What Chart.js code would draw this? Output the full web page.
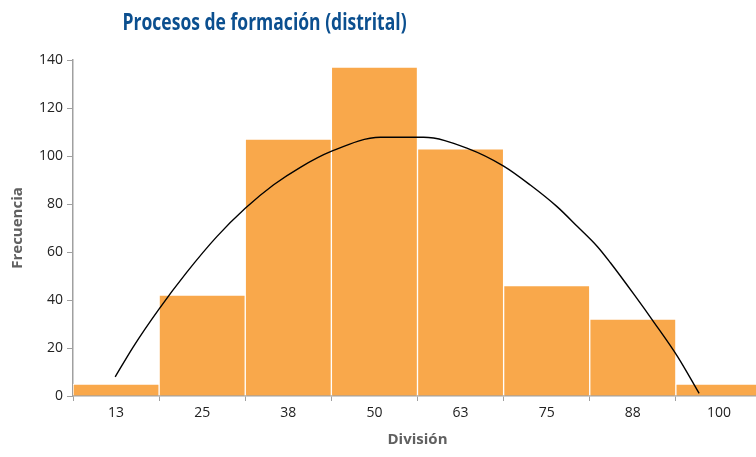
<!DOCTYPE html>
<html>
<head>
<meta charset="utf-8">
<script src="https://cdn.jsdelivr.net/npm/chart.js@4"></script>
<style>
  html, body { margin: 0; padding: 0; background: #fff; overflow: hidden; width: 756px; height: 457px; }
  #wrap { position: relative; width: 756px; height: 457px; overflow: hidden; }
  #titulo { position: absolute; left: 0; top: 4px; width: 530px; text-align: center;
            font-family: "Open Sans", sans-serif; font-weight: 700; font-size: 24px;
            color: #0b4f8f; white-space: nowrap; line-height: 34px; }
  #titulo span { display: inline-block; transform-origin: center; }
  canvas { position: absolute; left: 0; top: 0; }
</style>
</head>
<body>
<div id="wrap">
  <canvas id="hist" width="770" height="457"></canvas>
  <div id="titulo"><span>Procesos de formación (distrital)</span></div>
</div>
<script>
// categorias del histograma (marcas de clase)
var divisiones = ['13', '25', '38', '50', '63', '75', '88', '100'];
var frecuencias = [5, 42, 107, 137, 103, 46, 32, 5];
// curva normal: posicion en unidades de categoria y valor
var curvaX = [-0.01, 0.2, 0.49, 0.82, 1.17, 1.5, 1.83, 2.14, 2.49, 3.07, 3.57, 4.08, 4.5, 4.81, 5.12, 5.36, 5.59, 5.74, 6.02, 6.25, 6.52, 6.77];
var curvaY = [8, 20.5, 35.8, 51.5, 66.4, 78.2, 88, 95.3, 101.8, 107.8, 107.8, 103.2, 95.8, 87.9, 78.9, 70.5, 62.2, 55.5, 42, 30.5, 16.4, 1.1];
var yTicks = [0, 20, 40, 60, 80, 100, 120, 140];

// ajustar ancho del titulo (fuente condensada en el original)
var t = document.querySelector('#titulo span');
t.style.transform = 'scaleX(' + (284 / t.getBoundingClientRect().width) + ')';

var curva = curvaX.map((x, i) => ({ x: x, y: curvaY[i] }));

var ctx = document.getElementById('hist').getContext('2d');
new Chart(ctx, {
  type: 'bar',
  data: {
    labels: divisiones,
    datasets: [{
      type: 'line',
      data: curva,
      xAxisID: 'xc',
      borderColor: '#000',
      borderWidth: 1.4,
      pointRadius: 0,
      cubicInterpolationMode: 'monotone',
      fill: false
    }, {
      type: 'bar',
      data: frecuencias,
      xAxisID: 'x',
      grouped: false,
      backgroundColor: '#f9a84b',
      borderColor: '#ffffff',
      borderWidth: 1,
      barPercentage: 1,
      categoryPercentage: 1
    }]
  },
  options: {
    responsive: false,
    animation: false,
    layout: { padding: { top: 60, right: 8, left: 0, bottom: 0 } },
    plugins: { legend: { display: false }, tooltip: { enabled: false } },
    scales: {
      x: {
        type: 'category',
        afterFit: (s) => { s.height = 61; },
        grid: { drawOnChartArea: false, drawTicks: true, tickLength: 5, color: '#a0a0a0', offset: true },
        border: { color: '#a0a0a0', width: 1.5 },
        ticks: { color: '#222', padding: 4, font: { family: 'Open Sans', size: 14 } },
        title: { display: true, text: 'División', color: '#606060', padding: { bottom: 8, top: 0 },
                 font: { family: 'Open Sans', size: 15, weight: 'bold' } }
      },
      xc: {
        type: 'linear',
        display: false,
        offset: false,
        grid: { offset: false },
        min: -0.5,
        max: 7.5
      },
      y: {
        min: 0,
        max: 140,
        afterFit: (s) => { s.width = 73; },
        afterBuildTicks: (s) => { s.ticks = yTicks.map(v => ({ value: v })); },
        grid: { drawOnChartArea: false, drawTicks: true, tickLength: 6, color: '#a0a0a0' },
        border: { color: '#a0a0a0', width: 1.5 },
        ticks: { color: '#222', padding: 4, font: { family: 'Open Sans', size: 14 } },
        title: { display: true, text: 'Frecuencia', color: '#606060', padding: { top: 9, bottom: 0 },
                 font: { family: 'Open Sans', size: 15, weight: 'bold' } }
      }
    }
  }
});
</script>
</body>
</html>
